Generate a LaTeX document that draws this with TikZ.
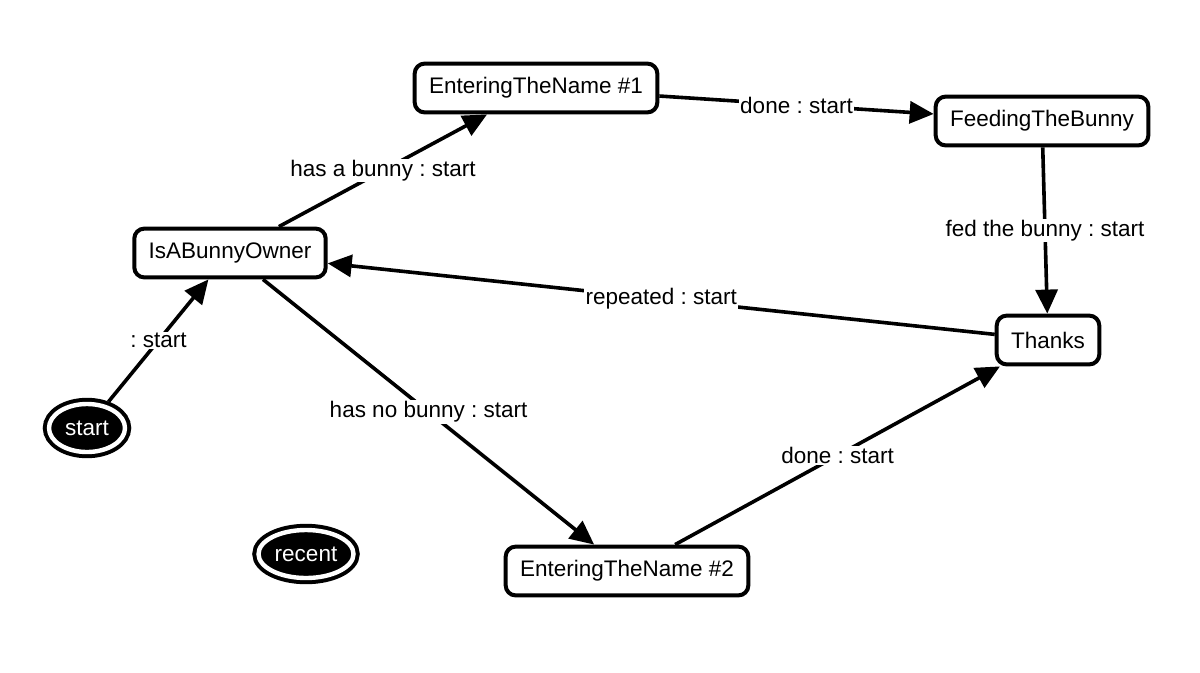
\documentclass[tikz,border=0pt]{standalone}
\usepackage{fontspec}
\setmainfont{Liberation Sans}
\usetikzlibrary{arrows.meta,shapes}
\frenchspacing

\begin{document}
\begin{tikzpicture}[x=0.025cm,y=-0.025cm,
    font=\fontsize{16}{19}\selectfont,
    state/.style={draw,rounded corners=0.25cm,line width=0.1cm,inner xsep=0.36cm,minimum height=1.22cm},
    pseudo/.style={ellipse,fill=black,text=white,draw,line width=0.1cm,double=white,double distance=0.11cm,inner sep=0pt,minimum height=1.2cm,outer sep=0.155cm},
    trans/.style={-{Triangle[length=0.6cm,width=0.55cm]},line width=0.09cm},
    lbl/.style={fill=white,inner sep=1pt}]
    \useasboundingbox (0,0) rectangle (1200,672);
    \node[state] (name1) at (536,88) {EnteringTheName \#1};
    \node[state] (feeding) at (1042,121) {FeedingTheBunny};
    \node[state] (owner) at (230,253) {IsABunnyOwner};
    \node[state] (thanks) at (1048,340) {Thanks};
    \node[state] (name2) at (627,571) {EnteringTheName \#2};
    \node[pseudo,minimum width=1.9cm] (start) at (87,428) {start};
    \node[pseudo,minimum width=2.375cm] (recent) at (306,554) {recent};
    \draw[trans] (start) -- node[lbl]{: start} (owner);
    \draw[trans] (owner) -- node[lbl]{has a bunny : start} (name1);
    \draw[trans] (name1) -- node[lbl]{done : start} (feeding);
    \draw[trans] (feeding) -- node[lbl]{fed the bunny : start} (thanks);
    \draw[trans] (thanks) -- node[lbl]{repeated : start} (owner);
    \draw[trans] (owner) -- node[lbl]{has no bunny : start} (name2);
    \draw[trans] (name2) -- node[lbl]{done : start} (thanks);
  \end{tikzpicture}
\end{document}
